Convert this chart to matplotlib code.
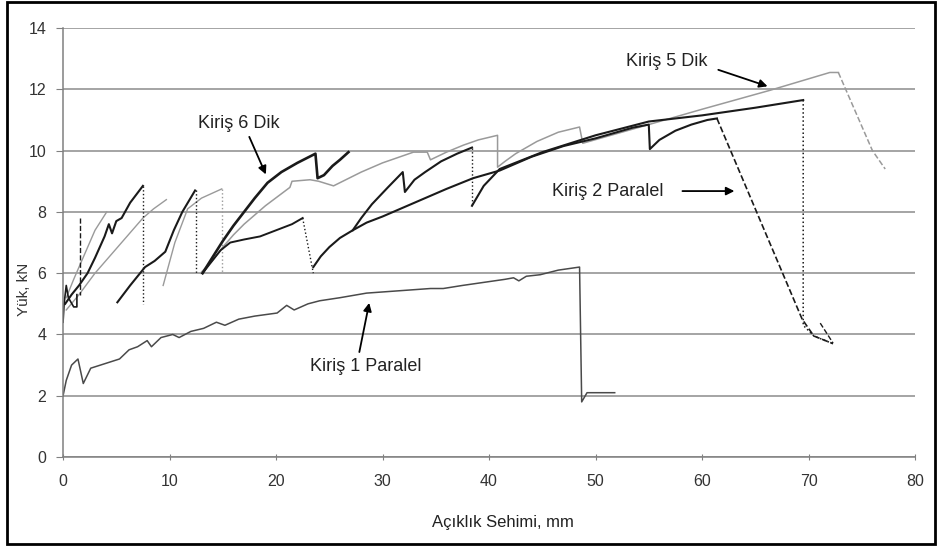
import matplotlib.pyplot as plt
from matplotlib.patches import Rectangle

plt.rcParams['font.family'] = ['Liberation Sans', 'DejaVu Sans']

# Kiriş 1 Paralel
k1_x = [0, 0.3, 0.8, 1.4, 1.9, 2.6, 3.5, 4.4, 5.3, 6.2, 7.0, 7.9, 8.3, 9.2, 10.3, 10.9,
        12.0, 13.2, 14.4, 15.2, 16.5, 18.0, 20.1, 21.0, 21.7, 23.0, 24.1, 26.0, 28.5,
        30.5, 32.5, 34.5, 35.7, 37.5, 39.5, 41.5, 42.3, 42.8, 43.5, 44.8, 46.5, 48.5,
        48.7, 49.2, 51.8]
k1_y = [2.0, 2.5, 3.0, 3.2, 2.4, 2.9, 3.0, 3.1, 3.2, 3.5, 3.6, 3.8, 3.6, 3.9, 4.0, 3.9,
        4.1, 4.2, 4.4, 4.3, 4.5, 4.6, 4.7, 4.95, 4.8, 5.0, 5.1, 5.2, 5.35,
        5.4, 5.45, 5.5, 5.5, 5.6, 5.7, 5.8, 5.85, 5.75, 5.9, 5.95, 6.1, 6.2,
        1.8, 2.1, 2.1]

# Kiriş 2 Paralel (black, several loadings)
k2a_x = [13.1, 14.0, 14.8, 15.7, 17.0, 18.5, 20.0, 21.5, 22.5]
k2a_y = [6.0, 6.4, 6.75, 7.0, 7.1, 7.2, 7.4, 7.6, 7.8]
k2a_drop_x = [22.5, 23.5]
k2a_drop_y = [7.8, 6.0]
k2b_x = [23.5, 24.2, 25.0, 26.0, 27.2, 28.5, 30.0, 33.0, 36.0, 38.5, 41.0, 44.0, 47.0,
         50.0, 53.5, 55.0, 55.1, 56.0, 57.5, 59.0, 60.5, 61.4]
k2b_y = [6.2, 6.55, 6.85, 7.15, 7.4, 7.65, 7.85, 8.3, 8.75, 9.1, 9.35, 9.8, 10.15,
         10.4, 10.75, 10.85, 10.05, 10.35, 10.65, 10.85, 11.0, 11.05]
k2_fall_x = [61.4, 65.0, 69.4, 70.5, 72.3]
k2_fall_y = [11.05, 8.1, 4.5, 3.95, 3.7]

# upper black sawtooth
b2_x = [27.2, 28.0, 29.0, 30.5, 31.9, 32.1, 33.0, 34.0, 35.5, 37.0, 38.4]
b2_y = [7.4, 7.8, 8.25, 8.8, 9.3, 8.65, 9.05, 9.3, 9.65, 9.9, 10.1]
b2_drop_x = [38.4, 38.4]
b2_drop_y = [10.1, 8.2]
b3_x = [38.4, 39.5, 41.0, 45.0, 50.0, 55.0, 60.0, 65.0, 69.5]
b3_y = [8.2, 8.85, 9.4, 9.95, 10.5, 10.95, 11.15, 11.4, 11.65]
b3_drop_x = [69.5, 69.5, 70.5, 72.3]
b3_drop_y = [11.65, 4.3, 3.95, 3.7]
b3_tail_x = [71.1, 72.3]
b3_tail_y = [4.37, 3.72]

# Kiriş 6 Dik
k6_x = [13.1, 14.0, 15.0, 16.0, 17.0, 18.0, 19.2, 20.5, 22.0, 23.7, 23.9, 24.5, 25.3,
        26.0, 26.8]
k6_y = [6.0, 6.5, 7.05, 7.55, 8.0, 8.45, 8.95, 9.3, 9.6, 9.9, 9.1, 9.2, 9.5, 9.7, 9.95]

# Kiriş 5 Dik (grey)
k5_x = [12.9, 14.0, 15.0, 16.0, 17.0, 19.0, 21.3, 21.5, 23.2, 24.0, 25.4, 28.0, 30.0,
        32.9, 34.2, 34.5, 36.0, 37.6, 39.0, 40.8, 40.8, 41.5, 42.5, 44.5, 46.5, 48.5,
        48.8, 55.0, 60.0, 66.4, 72.0, 72.8]
k5_y = [6.0, 6.4, 6.85, 7.25, 7.6, 8.2, 8.8, 9.0, 9.05, 9.0, 8.85, 9.3, 9.6,
        9.95, 9.95, 9.7, 9.95, 10.18, 10.35, 10.5, 9.46, 9.65, 9.9, 10.3, 10.6, 10.77,
        10.24, 10.85, 11.35, 11.97, 12.55, 12.55]
k5_fall_x = [72.8, 76.0, 77.2]
k5_fall_y = [12.55, 10.0, 9.4]

# early loadings near the origin
l0_x = [0.0, 0.1, 0.3, 0.5, 1.0, 1.3, 1.3]
l0_y = [4.4, 5.0, 5.6, 5.2, 4.9, 4.9, 5.3]
l1_x = [0.2, 0.8, 1.5, 2.3, 3.0, 3.9, 4.3, 4.6, 5.0, 5.5, 6.3, 7.5]
l1_y = [5.0, 5.3, 5.6, 6.0, 6.5, 7.2, 7.6, 7.3, 7.7, 7.8, 8.3, 8.85]
l1_drop_x = [7.5, 7.5]
l1_drop_y = [8.85, 5.0]
l2_x = [5.1, 6.3, 7.7, 8.6, 9.6, 10.4, 11.2, 12.4]
l2_y = [5.05, 5.6, 6.2, 6.4, 6.7, 7.4, 8.0, 8.7]
l2_drop_x = [12.5, 12.5]
l2_drop_y = [8.7, 6.0]
br_x = [1.6, 1.6]
br_y = [7.8, 5.3]
g1_x = [0.3, 1.5, 3.0, 4.5, 6.0, 7.5, 8.5, 9.7]
g1_y = [4.8, 5.3, 6.0, 6.6, 7.2, 7.8, 8.1, 8.4]
g2_x = [0.3, 1.0, 2.0, 3.0, 4.1]
g2_y = [5.2, 5.8, 6.6, 7.4, 8.0]
g4_x = [9.4, 10.5, 11.7, 13.0, 14.9]
g4_y = [5.6, 7.0, 8.1, 8.45, 8.75]
g4_drop_x = [14.9, 14.9]
g4_drop_y = [8.75, 6.0]

x_ticks = [0, 10, 20, 30, 40, 50, 60, 70, 80]
y_ticks = [0, 2, 4, 6, 8, 10, 12, 14]

dark = '#1a1a1a'
grey = '#9a9a9a'

fig = plt.figure(figsize=(9.41, 5.5), dpi=100)
ax = fig.add_axes([0.067, 0.169, 0.9054, 0.78])

ax.plot(k1_x, k1_y, color='#4a4a4a', lw=1.1)

ax.plot(k5_x, k5_y, color=grey, lw=1.1)
ax.plot(k5_fall_x, k5_fall_y, color=grey, lw=1.1, ls='--')
ax.plot(g1_x, g1_y, color=grey, lw=1.0)
ax.plot(g2_x, g2_y, color=grey, lw=1.0)
ax.plot(g4_x, g4_y, color=grey, lw=1.0)
ax.plot(g4_drop_x, g4_drop_y, color=grey, lw=1.0, ls=':')

ax.plot(k2a_x, k2a_y, color=dark, lw=1.4)
ax.plot(k2a_drop_x, k2a_drop_y, color=dark, lw=1.0, ls=':')
ax.plot(k2b_x, k2b_y, color=dark, lw=1.5)
ax.plot(k2_fall_x, k2_fall_y, color=dark, lw=1.2, ls='--')
ax.plot(b2_x, b2_y, color=dark, lw=1.5)
ax.plot(b2_drop_x, b2_drop_y, color=dark, lw=1.0, ls=':')
ax.plot(b3_x, b3_y, color=dark, lw=1.5)
ax.plot(b3_drop_x, b3_drop_y, color=dark, lw=1.1, ls=':')
ax.plot(b3_tail_x, b3_tail_y, color=dark, lw=1.0, ls='--')
ax.plot(k6_x, k6_y, color=dark, lw=1.9)
ax.plot(l0_x, l0_y, color=dark, lw=1.2)
ax.plot(l1_x, l1_y, color=dark, lw=1.5)
ax.plot(l1_drop_x, l1_drop_y, color=dark, lw=1.0, ls=':')
ax.plot(l2_x, l2_y, color=dark, lw=1.5)
ax.plot(l2_drop_x, l2_drop_y, color=dark, lw=1.0, ls=':')
ax.plot(br_x, br_y, color=dark, lw=1.0, ls='--')

arrow = dict(arrowstyle='-|>', color='black', lw=1.3, mutation_scale=12)
ax.annotate('Kiriş 6 Dik', xy=(19.15, 9.14), xytext=(16.5, 10.9), ha='center', va='center',
            fontsize=13, color='#222222', arrowprops=dict(arrow, relpos=(0.6, 0.0)))
ax.annotate('Kiriş 5 Dik', xy=(66.4, 12.07), xytext=(56.7, 12.92), ha='center', va='center',
            fontsize=13, color='#222222',
            arrowprops=dict(arrow, relpos=(1.0, 0.2), shrinkA=6))
ax.annotate('Kiriş 2 Paralel', xy=(63.3, 8.68), xytext=(51.1, 8.68), ha='center', va='center',
            fontsize=13, color='#222222',
            arrowprops=dict(arrow, relpos=(1.0, 0.5), shrinkA=12))
ax.annotate('Kiriş 1 Paralel', xy=(28.8, 5.12), xytext=(28.45, 2.97), ha='center', va='center',
            fontsize=13, color='#222222', arrowprops=dict(arrow, relpos=(0.43, 1.0)))

ax.set_xlim(0, 80)
ax.set_ylim(0, 14)
ax.set_xticks(x_ticks)
ax.set_yticks(y_ticks)
ax.yaxis.grid(True, color='#8c8c8c', lw=1.1)
ax.set_axisbelow(True)
for side in ['top', 'right']:
    ax.spines[side].set_visible(False)
for side in ['left', 'bottom']:
    ax.spines[side].set_color('#808080')
    ax.spines[side].set_linewidth(1.1)
ax.tick_params(axis='y', direction='out', length=5, pad=7, labelsize=11.5,
               color='#808080', labelcolor='#333333')
ax.tick_params(axis='x', direction='inout', length=5, pad=10, labelsize=11.5,
               color='#808080', labelcolor='#333333')

ax.set_xlabel('Açıklık Sehimi, mm', fontsize=12, color='#222222')
ax.set_ylabel('Yük, kN', fontsize=11, color='#333333')
ax.xaxis.set_label_coords(0.516, -0.135)
ax.yaxis.set_label_coords(-0.038, 0.39)

fig.add_artist(Rectangle((7 / 941, 1 - 544 / 550), 928 / 941, 542 / 550,
                         transform=fig.transFigure, fill=False, lw=2.0, ec='black'))

fig.savefig('out.png', dpi=100)
